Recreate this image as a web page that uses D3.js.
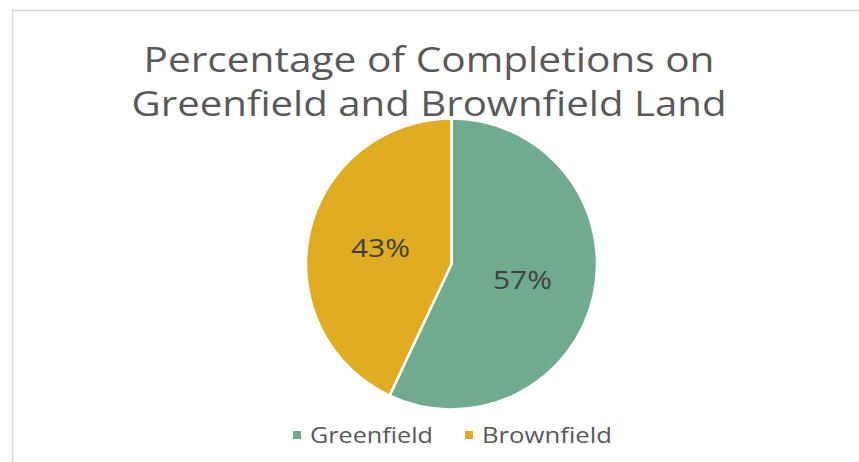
<!DOCTYPE html>
<html>
<head>
<meta charset="utf-8">
<script src="https://cdn.jsdelivr.net/npm/d3@7"></script>
<style>
  body { margin: 0; background: #fff; }
  text { font-family: "Open Sans", "DejaVu Sans", sans-serif; }
</style>
</head>
<body>
<svg width="859" height="462"></svg>
<script>
const categories = ["Greenfield", "Brownfield"];
const values = [57, 43];
const colors = ["#70ab8f", "#e0ac22"];
const titleLines = ["Percentage of Completions on", "Greenfield and Brownfield Land"];

const svg = d3.select("svg");

// chart frame (only top/left edges visible in the crop)
svg.append("rect")
    .attr("x", 12.5).attr("y", 10.5)
    .attr("width", 900).attr("height", 500)
    .attr("fill", "none")
    .attr("stroke", "#d9d9d9")
    .attr("stroke-width", 1.5);

svg.selectAll(".title")
    .data(titleLines)
    .enter().append("text")
    .attr("class", "title")
    .attr("x", 429)
    .attr("y", (d, i) => 72 + i * 44)
    .attr("text-anchor", "middle")
    .attr("fill", "#595959")
    .style("font-size", "34px")
    .attr("textLength", (d, i) => i === 0 ? 571 : 595)
    .attr("lengthAdjust", "spacingAndGlyphs")
    .text(d => d);

const cx = 451.5, cy = 264, r = 145.5;

const pie = d3.pie().sort(null).value(d => d);
const arcs = pie(values);
const arc = d3.arc().innerRadius(0).outerRadius(r);
const labelArc = d3.arc().innerRadius(r * 0.5).outerRadius(r * 0.5);

const g = svg.append("g").attr("transform", `translate(${cx},${cy})`);

g.selectAll("path")
    .data(arcs)
    .enter().append("path")
    .attr("d", arc)
    .attr("fill", (d, i) => colors[i])
    .attr("stroke", "#fff")
    .attr("stroke-width", 2.5);

g.selectAll(".lbl")
    .data(arcs)
    .enter().append("text")
    .attr("class", "lbl")
    .attr("transform", d => `translate(${labelArc.centroid(d)})`)
    .attr("text-anchor", "middle")
    .attr("dy", "0.35em")
    .attr("fill", "#404040")
    .style("font-size", "25px")
    .attr("textLength", 59)
    .attr("lengthAdjust", "spacingAndGlyphs")
    .text(d => d.data + "%");

// legend
const legendX = [293, 465];
const legendLen = [123, 130];
const legend = svg.selectAll(".leg")
    .data(categories)
    .enter().append("g")
    .attr("class", "leg")
    .attr("transform", (d, i) => `translate(${legendX[i]},435)`);

legend.append("rect")
    .attr("x", 0).attr("y", -4)
    .attr("width", 8).attr("height", 8)
    .attr("fill", (d, i) => colors[i]);

legend.append("text")
    .attr("x", 17)
    .attr("y", 8)
    .attr("fill", "#595959")
    .style("font-size", "22px")
    .attr("textLength", (d, i) => legendLen[i])
    .attr("lengthAdjust", "spacingAndGlyphs")
    .text(d => d);
</script>
</body>
</html>
